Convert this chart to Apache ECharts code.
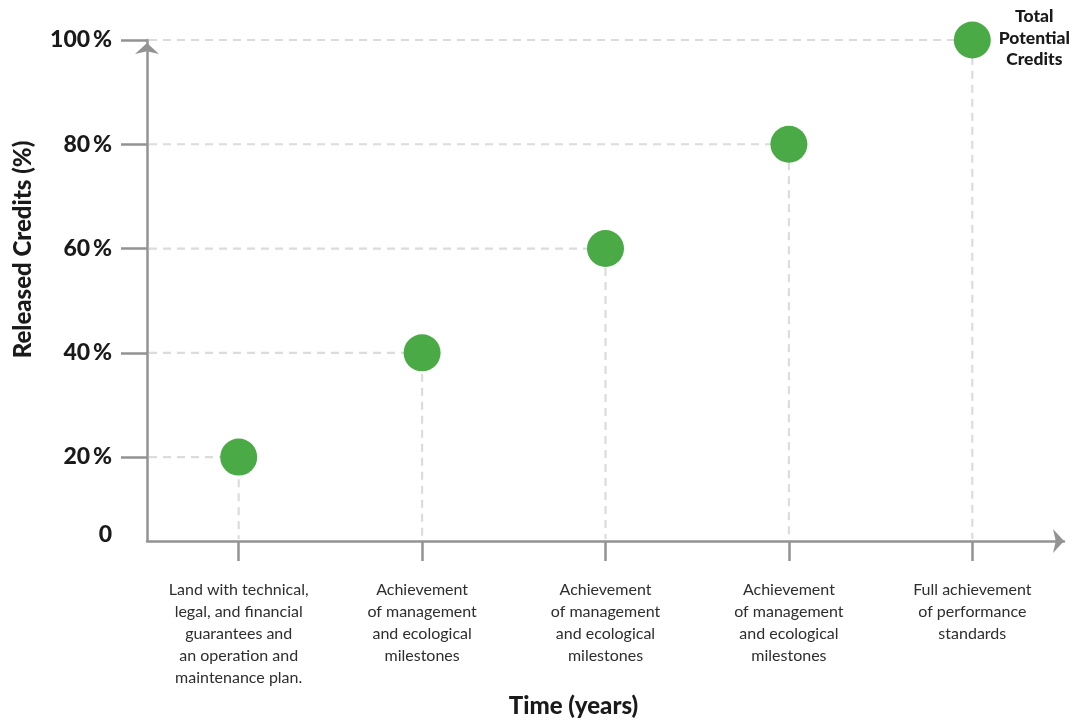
<!DOCTYPE html>
<html>
<head>
<meta charset="utf-8">
<title>Released Credits over Time</title>
<script src="https://cdn.jsdelivr.net/npm/echarts@6/dist/echarts.min.js"></script>
<style>
  html, body { margin: 0; padding: 0; background: #ffffff; }
  #chart { width: 1078px; height: 721px; }
</style>
</head>
<body>
<div id="chart"></div>
<script>
// Release stages along the time axis
const stages = [
  'Land with technical,\nlegal, and financial\nguarantees and\nan operation and\nmaintenance plan.',
  'Achievement\nof management\nand ecological\nmilestones',
  'Achievement\nof management\nand ecological\nmilestones',
  'Achievement\nof management\nand ecological\nmilestones',
  'Full achievement\nof performance\nstandards'
];

// Cumulative share of credits released at each stage (%)
const released = [20, 40, 60, 80, 100];

// Y axis tick values (%)
const yTicks = [20, 40, 60, 80, 100];
// Axis floor; labelled "0"
const yFloor = 3.9;

const finalLabel = 'Total\nPotential\nCredits';

const FONT = 'Lato, "Noto Sans", sans-serif';
const AXIS_GREY = '#939393';
const GUIDE_GREY = '#dcdcdc';
const DOT_GREEN = '#4aaa46';
const INK = '#1a1a1a';

const chart = echarts.init(document.getElementById('chart'), null, { renderer: 'canvas' });

chart.setOption({
  animation: false,
  backgroundColor: '#ffffff',
  grid: { left: 147, right: 14, top: 40, bottom: 180, outerBoundsMode: 'none' },
  xAxis: {
    type: 'category',
    data: stages,
    boundaryGap: true,
    name: 'Time (years)',
    nameLocation: 'middle',
    nameGap: 151,
    nameTextStyle: {
      fontFamily: FONT, fontSize: 24, fontWeight: 900, color: INK,
      padding: [0, 64, 0, 0]
    },
    axisLine: {
      show: true,
      symbol: ['none', 'arrow'],
      symbolSize: [18, 11],
      lineStyle: { color: AXIS_GREY, width: 2.5 }
    },
    axisTick: {
      show: true, alignWithLabel: true, length: 20,
      lineStyle: { color: AXIS_GREY, width: 2.5 }
    },
    axisLabel: {
      interval: 0,
      margin: 38,
      fontFamily: FONT, fontSize: 16, lineHeight: 22, color: '#2e2e2e',
      align: 'center'
    },
    splitLine: { show: false }
  },
  yAxis: {
    type: 'value',
    min: yFloor,
    max: 100,
    name: 'Released Credits (%)',
    nameLocation: 'middle',
    nameGap: 112,
    nameTextStyle: {
      fontFamily: FONT, fontSize: 24, fontWeight: 900, color: INK,
      padding: [0, 0, 0, 82]
    },
    axisLine: {
      show: true,
      symbol: ['none', 'arrow'],
      symbolSize: [18, 11],
      symbolOffset: [0, -3],
      lineStyle: { color: AXIS_GREY, width: 2.5 }
    },
    axisTick: {
      show: true, length: 26,
      customValues: yTicks,
      lineStyle: { color: AXIS_GREY, width: 2.5 }
    },
    axisLabel: {
      margin: 35,
      customValues: [yFloor].concat(yTicks),
      fontFamily: FONT, fontSize: 23, fontWeight: 900, color: INK,
      formatter: function (v) {
        return v < 10 ? '{z|0}' : Math.round(v) + '\u2009%';
      },
      rich: {
        z: {
          fontFamily: FONT, fontSize: 23, fontWeight: 900, color: INK,
          padding: [0, 0, 12, 0]
        }
      }
    },
    splitLine: { show: false }
  },
  series: [
    {
      // Dashed guides from the value axis to each point and down to the time axis
      type: 'custom',
      silent: true,
      z: 1,
      data: released.map(function (v, i) { return [i, v]; }),
      renderItem: function (params, api) {
        const p = api.coord([api.value(0), api.value(1)]);
        const base = api.coord([api.value(0), yFloor]);
        const left = params.coordSys.x;
        return {
          type: 'polyline',
          shape: { points: [[left + 2, p[1]], [p[0], p[1]], [p[0], base[1] - 2]] },
          style: { stroke: GUIDE_GREY, lineWidth: 2.2, lineDash: [8, 6], fill: null }
        };
      }
    },
    {
      type: 'scatter',
      z: 3,
      symbol: 'circle',
      symbolSize: 37,
      itemStyle: { color: DOT_GREEN, opacity: 1 },
      data: released.map(function (v, i) {
        const item = { value: [i, v] };
        if (i === released.length - 1) {
          item.label = {
            show: true,
            position: 'inside',
            offset: [62, -2],
            formatter: finalLabel,
            align: 'center',
            fontFamily: FONT, fontSize: 17.5, fontWeight: 900,
            lineHeight: 21.5, color: INK, opacity: 1
          };
        }
        return item;
      })
    }
  ]
});
</script>
</body>
</html>
